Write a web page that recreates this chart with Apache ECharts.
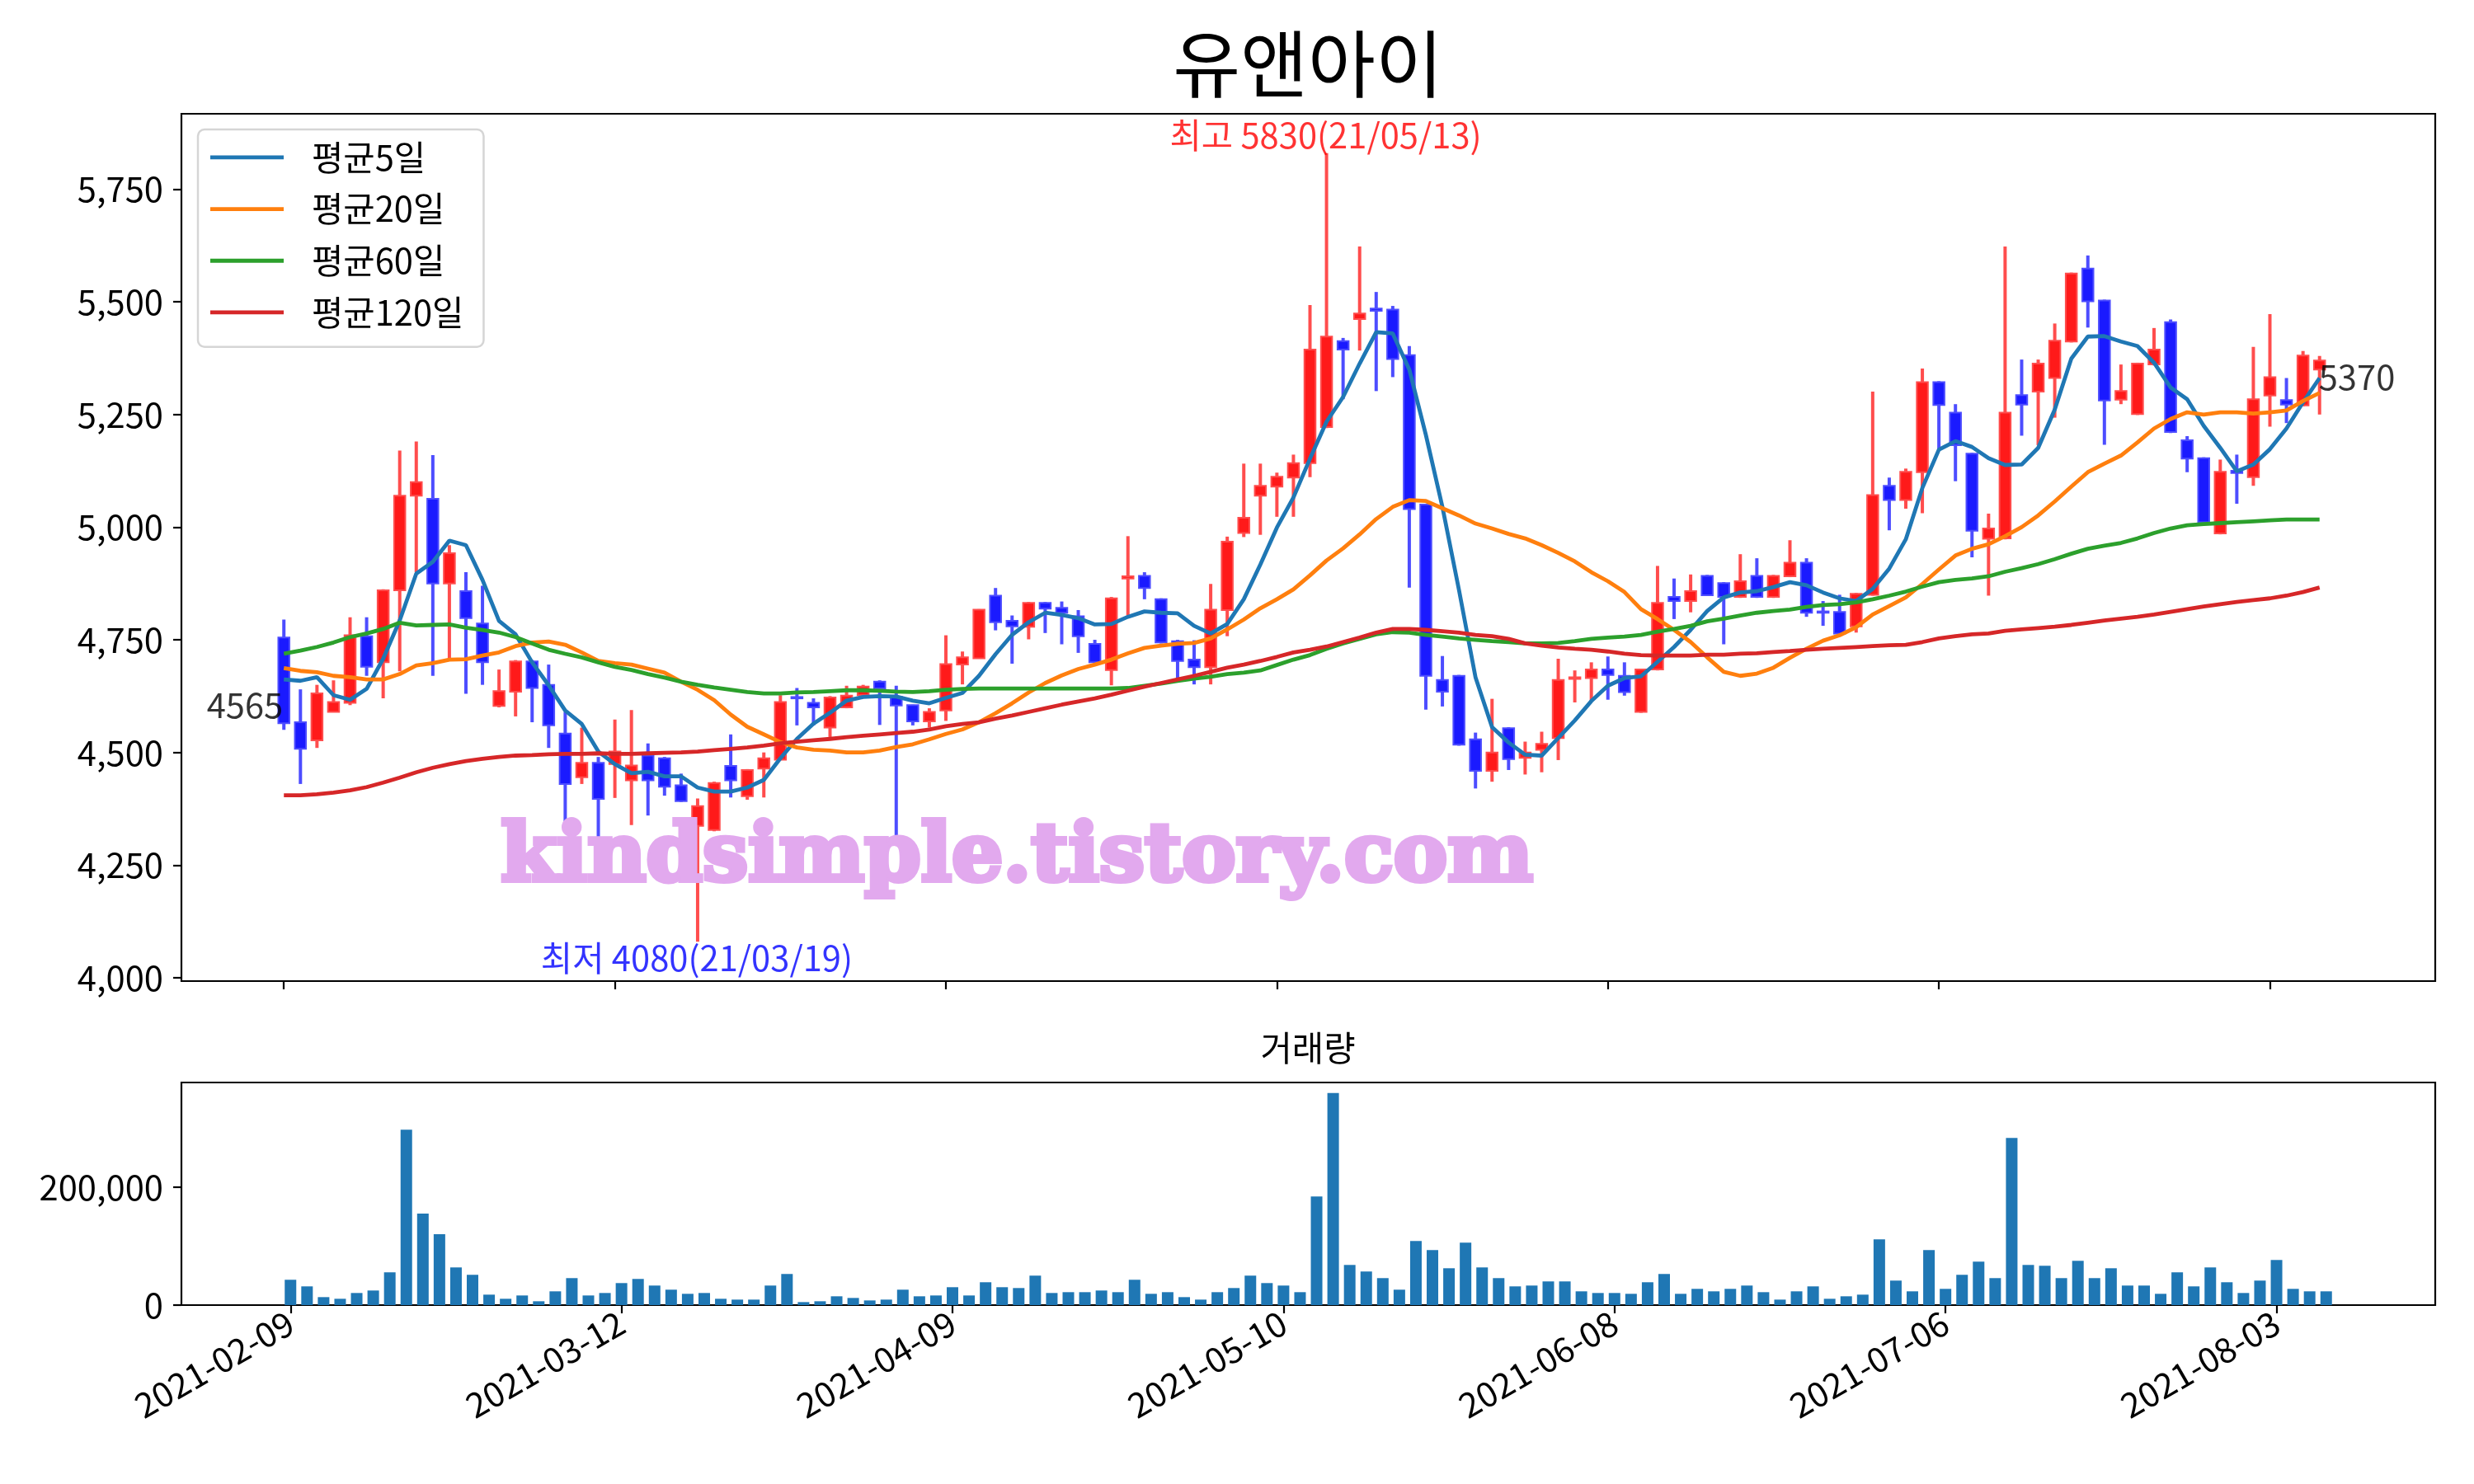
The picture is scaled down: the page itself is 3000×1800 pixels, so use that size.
<!DOCTYPE html>
<html><head><meta charset="utf-8">
<script src="https://cdn.jsdelivr.net/npm/echarts@6/dist/echarts.min.js"></script>
<style>html,body{margin:0;padding:0;background:#fff}#c{width:3000px;height:1800px}</style>
</head><body><div id="c"></div>
<script>
const dates = ['2021-02-09','2021-02-10','2021-02-15','2021-02-16','2021-02-17','2021-02-18','2021-02-19','2021-02-22','2021-02-23','2021-02-24','2021-02-25','2021-02-26',
'2021-03-02','2021-03-03','2021-03-04','2021-03-05','2021-03-08','2021-03-09','2021-03-10','2021-03-11','2021-03-12','2021-03-15','2021-03-16','2021-03-17','2021-03-18','2021-03-19',
'2021-03-22','2021-03-23','2021-03-24','2021-03-25','2021-03-26','2021-03-29','2021-03-30','2021-03-31','2021-04-01','2021-04-02','2021-04-05','2021-04-06','2021-04-07','2021-04-08','2021-04-09',
'2021-04-12','2021-04-13','2021-04-14','2021-04-15','2021-04-16','2021-04-19','2021-04-20','2021-04-21','2021-04-22','2021-04-23','2021-04-26','2021-04-27','2021-04-28','2021-04-29','2021-04-30',
'2021-05-03','2021-05-04','2021-05-06','2021-05-07','2021-05-10','2021-05-11','2021-05-12','2021-05-13','2021-05-14','2021-05-17','2021-05-18','2021-05-20','2021-05-21',
'2021-05-24','2021-05-25','2021-05-26','2021-05-27','2021-05-28','2021-05-31','2021-06-01','2021-06-02','2021-06-03','2021-06-04','2021-06-07','2021-06-08',
'2021-06-09','2021-06-10','2021-06-11','2021-06-14','2021-06-15','2021-06-16','2021-06-17','2021-06-18','2021-06-21','2021-06-22','2021-06-23','2021-06-24','2021-06-25',
'2021-06-28','2021-06-29','2021-06-30','2021-07-01','2021-07-02','2021-07-05','2021-07-06','2021-07-07','2021-07-08','2021-07-09','2021-07-12','2021-07-13','2021-07-14','2021-07-15','2021-07-16',
'2021-07-19','2021-07-20','2021-07-21','2021-07-22','2021-07-23','2021-07-26','2021-07-27','2021-07-28','2021-07-29','2021-07-30','2021-08-02','2021-08-03','2021-08-04','2021-08-05','2021-08-06'];

const opens = [4755,4567,4527,4590,4610,4758,4700,4860,5070,5063,4875,4858,4786,4603,4635,4702,4650,4542,4445,4477,
4474,4438,4493,4487,4427,4337,4328,4470,4403,4464,4484,4623,4610,4555,4600,4627,4657,4624,4605,4569,
4593,4695,4709,4848,4792,4779,4832,4821,4802,4741,4683,4886,4892,4840,4747,4706,4689,4816,4987,5070,
5090,5110,5142,5222,5413,5462,5485,5483,5382,5050,4661,4670,4529,4459,4554,4488,4506,4532,4663,4665,
4684,4670,4590,4684,4845,4836,4892,4876,4845,4892,4845,4891,4921,4813,4812,4780,4850,5092,5060,5122,
5322,5254,5163,4974,4975,5293,5301,5331,5412,5574,5503,5283,5251,5361,5455,5193,5153,4986,5125,5111,
5292,5282,5270,5350];
const closes = [4565,4508,4631,4612,4760,4690,4860,5070,5100,4875,4942,4798,4700,4636,4702,4643,4560,4430,4477,4397,
4502,4471,4438,4424,4392,4381,4432,4438,4461,4487,4612,4620,4600,4622,4626,4646,4642,4604,4569,4590,
4696,4711,4817,4789,4780,4832,4819,4810,4758,4700,4842,4891,4865,4744,4703,4689,4817,4968,5021,5092,
5112,5142,5394,5423,5394,5474,5480,5373,5040,4670,4635,4517,4459,4500,4485,4500,4519,4661,4667,4684,
4672,4634,4684,4832,4836,4858,4849,4845,4880,4845,4892,4921,4810,4810,4764,4852,5071,5060,5123,5322,
5271,5182,4992,4997,5254,5272,5363,5414,5563,5501,5281,5302,5363,5394,5211,5152,5011,5123,5120,5284,
5333,5272,5381,5370];
const highs = [4795,4640,4650,4660,4800,4800,4862,5170,5190,5160,4960,4900,4870,4684,4705,4705,4695,4590,4555,4490,
4573,4594,4520,4490,4453,4398,4435,4540,4463,4500,4627,4643,4620,4625,4648,4650,4660,4648,4606,4598,
4760,4724,4818,4865,4804,4834,4834,4835,4816,4750,4845,4980,4900,4842,4750,4749,4874,4979,5141,5141,
5121,5161,5493,5830,5420,5623,5522,5491,5402,5052,4714,4672,4544,4619,4556,4524,4546,4708,4682,4700,
4713,4700,4686,4914,4886,4895,4894,4878,4940,4931,4894,4971,4931,4836,4850,4854,5301,5110,5130,5352,
5324,5273,5165,5030,5623,5372,5372,5452,5565,5603,5505,5361,5365,5442,5461,5202,5155,5150,5161,5400,
5473,5331,5391,5380];
const lows = [4550,4430,4510,4590,4605,4670,4620,4680,4900,4670,4708,4630,4650,4600,4580,4567,4510,4332,4430,4296,
4399,4339,4360,4404,4390,4080,4325,4400,4395,4400,4484,4560,4560,4533,4598,4625,4561,4303,4560,4555,
4570,4651,4708,4771,4697,4751,4765,4740,4721,4698,4649,4804,4840,4742,4663,4651,4651,4758,4978,4983,
5023,5023,5111,5220,5284,5392,5302,5333,4866,4595,4602,4515,4420,4435,4461,4451,4456,4483,4611,4614,
4617,4626,4588,4682,4796,4811,4847,4740,4843,4843,4843,4889,4801,4781,4762,4766,4848,4993,5041,5031,
5170,5102,4933,4848,4973,5203,5182,5243,5410,5443,5183,5273,5249,5359,5209,5122,5009,4984,5052,5092,
5223,5231,5268,5250];
const volumes = [42900,31700,13500,10700,20500,24700,55500,297000,155000,120000,63800,51300,17700,10700,16300,6500,23300,45700,16300,20500,
37300,44300,33100,26100,19100,20500,10700,9300,9300,33100,52700,5100,6500,14900,12100,7900,9300,26100,14900,16300,
30300,16300,38700,30300,28900,49900,20500,21900,21900,24700,21900,42900,19100,21900,13500,9300,21900,28900,49900,37300,
33100,21900,184000,359000,68000,56900,45700,26100,108600,93200,62400,105800,63800,45700,31700,33100,40100,40100,23300,20500,
20500,19100,38700,52700,19100,27500,23300,27500,33100,21900,9300,23300,31700,10700,14900,17700,111400,41500,23300,93200,
27500,51300,73600,45700,283000,68000,66600,45700,75000,45700,62400,33100,33100,19100,55500,31700,63800,38700,20500,41500,
76400,27500,23300,23300];
const ma5 = [4662,4659,4667,4627,4617,4641,4708,4793,4897,4923,4970,4960,4883,4792,4762,4700,4649,4593,4563,4502,
4474,4454,4457,4447,4447,4422,4413,4413,4422,4439,4487,4530,4564,4588,4615,4623,4625,4624,4615,4609,
4621,4632,4670,4718,4761,4789,4810,4805,4798,4784,4785,4801,4813,4810,4809,4781,4764,4785,4840,4917,
4999,5066,5152,5234,5289,5363,5433,5430,5350,5205,5045,4861,4667,4556,4522,4495,4493,4532,4571,4614,
4648,4665,4669,4701,4734,4772,4814,4844,4855,4858,4867,4878,4871,4855,4842,4836,4863,4908,4973,5087,
5172,5191,5178,5153,5138,5139,5176,5261,5374,5423,5424,5412,5402,5365,5310,5284,5225,5176,5124,5139,
5173,5219,5277,5331];
const ma20 = [4687,4681,4678,4670,4667,4662,4662,4674,4693,4698,4706,4707,4715,4722,4736,4744,4746,4739,4722,4703,
4698,4695,4686,4677,4657,4639,4616,4584,4557,4540,4523,4511,4506,4504,4500,4500,4504,4512,4518,4529,
4541,4551,4567,4587,4609,4633,4654,4671,4685,4695,4706,4720,4732,4737,4741,4743,4753,4773,4795,4820,
4840,4862,4893,4926,4953,4984,5018,5045,5060,5058,5042,5026,5008,4997,4985,4975,4960,4943,4924,4900,
4880,4856,4818,4796,4772,4745,4711,4679,4670,4675,4688,4710,4730,4748,4760,4778,4806,4825,4844,4874,
4906,4937,4952,4962,4980,5000,5026,5057,5090,5122,5141,5159,5188,5219,5240,5255,5250,5255,5255,5252,
5255,5259,5280,5298];
const ma60 = [4719,4726,4734,4744,4756,4764,4774,4788,4782,4783,4784,4777,4772,4766,4756,4742,4728,4719,4711,4700,
4690,4683,4674,4666,4657,4650,4644,4639,4634,4631,4631,4633,4634,4636,4638,4638,4637,4635,4634,4636,
4639,4641,4642,4642,4642,4642,4642,4642,4642,4642,4642,4643,4648,4653,4659,4664,4668,4674,4677,4682,
4694,4706,4716,4730,4742,4752,4762,4767,4766,4761,4757,4753,4750,4747,4745,4742,4742,4743,4747,4752,
4755,4757,4761,4768,4774,4781,4791,4797,4804,4810,4814,4817,4823,4827,4829,4833,4840,4848,4857,4868,
4878,4883,4886,4891,4901,4909,4918,4929,4941,4952,4959,4965,4975,4987,4997,5004,5007,5009,5011,5013,
5015,5017,5017,5017];
const ma120 = [4405,4405,4407,4411,4416,4423,4433,4444,4456,4466,4474,4481,4486,4490,4493,4494,4496,4497,4497,4498,
4497,4497,4498,4499,4500,4502,4505,4508,4511,4515,4520,4524,4527,4530,4534,4537,4540,4543,4546,4551,
4558,4563,4567,4575,4582,4590,4598,4606,4613,4620,4628,4637,4646,4654,4662,4670,4679,4688,4695,4703,
4712,4722,4728,4735,4745,4755,4766,4774,4774,4772,4769,4766,4761,4758,4752,4742,4737,4733,4730,4728,
4724,4719,4716,4715,4715,4715,4717,4717,4719,4720,4723,4725,4728,4730,4732,4734,4736,4738,4739,4745,
4753,4758,4762,4764,4770,4773,4776,4779,4783,4788,4793,4797,4801,4806,4812,4818,4824,4829,4834,4838,
4842,4848,4856,4866];
const priceTicks = [4000,4250,4500,4750,5000,5250,5500,5750];
const volumeTicks = [0,200000];
const dateTickIdx = [0,20,40,60,80,100,120];
const maNames = ['평균5일','평균20일','평균60일','평균120일'];
const maColors = ['#1f77b4','#ff7f0e','#2ca02c','#d62728'];

const FONT = '"Noto Sans CJK KR", "Noto Sans", sans-serif';
const FS = 41.7;
const chart = echarts.init(document.getElementById('c'), null, {renderer:'canvas'});

const candleData = dates.map((d,i)=>[i, opens[i], closes[i], lows[i], highs[i]]);
let maxIdx = 0, minIdx = 0;
highs.forEach((h,i)=>{ if (h > highs[maxIdx]) maxIdx = i; });
lows.forEach((l,i)=>{ if (l < lows[minIdx]) minIdx = i; });
const shortDate = d => d.slice(2).replace(/-/g,'/');
const last = closes.length - 1;

const maSeries = [ma5, ma20, ma60, ma120].map((arr,k)=>({
  name: maNames[k], type:'line', xAxisIndex:0, yAxisIndex:0,
  data: arr.map((v,i)=>[i,v]), showSymbol:false, symbol:'none',
  lineStyle:{color:maColors[k], width:4.8}, itemStyle:{color:maColors[k]},
  z: 5 + k, animation:false, silent:true
}));

const annoLabel = (extra)=>Object.assign({show:true, position:[0,0], distance:0, fontFamily:FONT, fontSize:FS}, extra);
const axisCommon = {splitLine:{show:false}, axisLine:{show:false, onZero:false}};

const option = {
  animation:false,
  backgroundColor:'#fff',
  textStyle:{fontFamily:FONT},
  grid:[
    {left:220, top:138, width:2733, height:1052, show:true, borderColor:'#000', borderWidth:2.2, backgroundColor:'transparent'},
    {left:220, top:1313, width:2733, height:270, show:true, borderColor:'#000', borderWidth:2.2, backgroundColor:'transparent'}
  ],
  legend:{
    data:maNames, orient:'vertical', left:240, top:157,
    icon:'rect', itemWidth:89, itemHeight:4.8, itemGap:21,
    padding:[13,24,21,15], borderColor:'#d5d5d5', borderWidth:2.5, borderRadius:8,
    backgroundColor:'rgba(255,255,255,0.8)',
    textStyle:{fontFamily:FONT, fontSize:FS, lineHeight:FS, color:'#000', padding:[0,0,0,29]}
  },
  xAxis:[
    Object.assign({type:'value', gridIndex:0, min:-6.19, max:129.99,
     axisTick:{show:true, customValues:dateTickIdx, length:10, lineStyle:{color:'#000', width:2.2}},
     axisLabel:{show:false}}, axisCommon),
    Object.assign({type:'value', gridIndex:1, min:-6.59, max:129.59,
     axisTick:{show:true, customValues:dateTickIdx, length:10, lineStyle:{color:'#000', width:2.2}},
     axisLabel:{show:true, customValues:dateTickIdx, formatter:v=>dates[v], rotate:30, margin:18,
       fontFamily:FONT, fontSize:FS, color:'#000'}}, axisCommon)
  ],
  yAxis:[
    Object.assign({type:'value', gridIndex:0, min:3992.5, max:5917.5,
     axisTick:{show:true, customValues:priceTicks, length:10, lineStyle:{color:'#000', width:2.2}},
     axisLabel:{show:true, customValues:priceTicks, formatter:v=>Number(v).toLocaleString('en-US'), margin:22,
       fontFamily:FONT, fontSize:FS, color:'#000'}}, axisCommon),
    Object.assign({type:'value', gridIndex:1, min:0, max:376950,
     axisTick:{show:true, customValues:volumeTicks, length:10, lineStyle:{color:'#000', width:2.2}},
     axisLabel:{show:true, customValues:volumeTicks, formatter:v=>Number(v).toLocaleString('en-US'), margin:22,
       fontFamily:FONT, fontSize:FS, color:'#000'}}, axisCommon)
  ],
  graphic:[
    {type:'text', x:1586, y:77, z:50, style:{text:'유앤아이', font:'89px '+FONT, fill:'#000', textAlign:'center', textVerticalAlign:'middle'}},
    {type:'text', x:1586, y:1271, z:50, style:{text:'거래량', font:FS+'px '+FONT, fill:'#000', textAlign:'center', textVerticalAlign:'middle'}},
    {type:'text', x:1233, y:1043, z:100, style:{text:'kindsimple.tistory.com', font:'bold 98px "DejaVu Serif"', fill:'#e2a9ee', stroke:'#e2a9ee', lineWidth:6, lineJoin:'round', textAlign:'center', textVerticalAlign:'middle'}}
  ],
  series:[
    {type:'custom', name:'candle', xAxisIndex:0, yAxisIndex:0, data:candleData, encode:{x:0, y:[1,2,3,4]},
     z:3, silent:true, animation:false,
     renderItem:(params, api)=>{
       const x = api.value(0), o = api.value(1), c = api.value(2), l = api.value(3), h = api.value(4);
       const up = c >= o;
       const pO = api.coord([x,o]), pC = api.coord([x,c]), pL = api.coord([x,l]), pH = api.coord([x,h]);
       const bw = 13.5;
       const top = Math.min(pO[1], pC[1]), bot = Math.max(pO[1], pC[1]);
       const fill = up ? '#ff1a1a' : '#1a1aff';
       const edge = up ? '#ff4d4d' : '#4d4dff';
       return {type:'group', children:[
         {type:'line', shape:{x1:pH[0], y1:pH[1], x2:pL[0], y2:pL[1]}, style:{stroke:edge, lineWidth:4}},
         {type:'rect', shape:{x:pO[0]-bw/2, y:top, width:bw, height:Math.max(bot-top,1.5)}, style:{fill:fill, stroke:edge, lineWidth:2}}
       ]};
     }},
    ...maSeries,
    {type:'scatter', xAxisIndex:0, yAxisIndex:0, symbolSize:2, itemStyle:{color:'rgba(0,0,0,0)'}, z:20, silent:true, animation:false,
     data:[
       {value:[maxIdx, highs[maxIdx]], label:annoLabel({formatter:'최고 '+highs[maxIdx]+'('+shortDate(dates[maxIdx])+')', color:'#ff0000', align:'center', verticalAlign:'bottom'})},
       {value:[minIdx, lows[minIdx]], label:annoLabel({formatter:'최저 '+lows[minIdx]+'('+shortDate(dates[minIdx])+')', color:'#0000ff', align:'center', verticalAlign:'top'})},
       {value:[0, closes[0]], label:annoLabel({formatter:String(closes[0]), color:'#000', align:'right', verticalAlign:'bottom'})},
       {value:[last, closes[last]], label:annoLabel({formatter:String(closes[last]), color:'#000', align:'left', verticalAlign:'top'})}
     ]},
    {type:'bar', name:'volume', xAxisIndex:1, yAxisIndex:1, data:volumes.map((v,i)=>[i,v]), barWidth:14,
     itemStyle:{color:'#1f77b4'}, silent:true, animation:false}
  ]
};
chart.setOption(option);
</script></body></html>
